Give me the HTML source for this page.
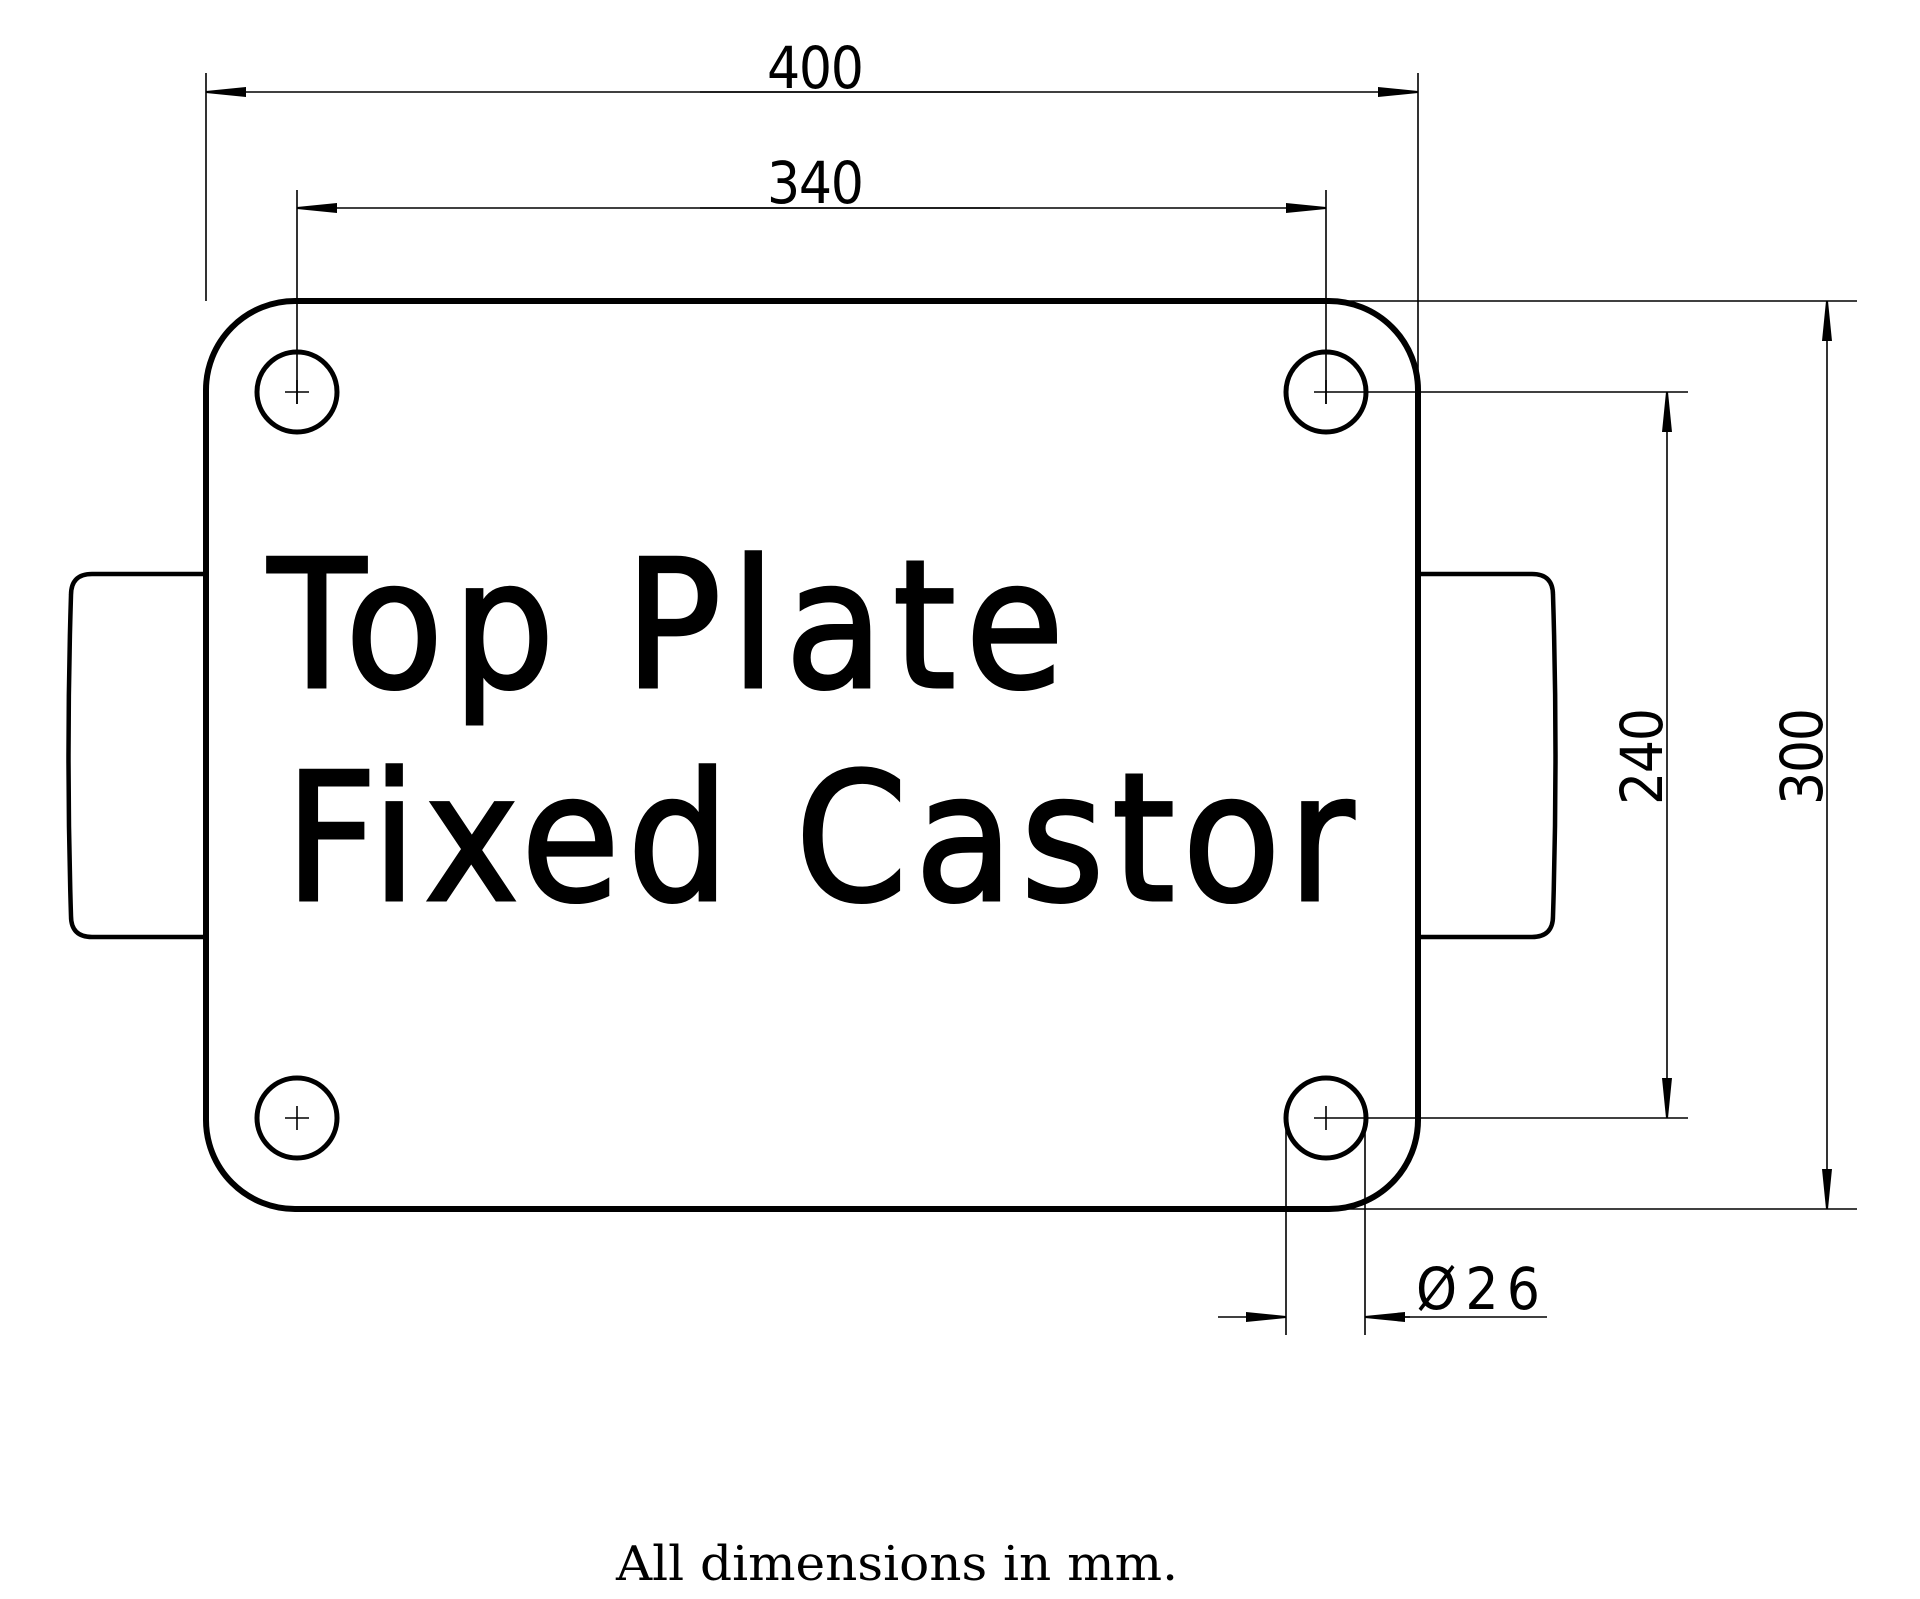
<!DOCTYPE html>
<html><head><meta charset="utf-8"><style>html,body{margin:0;padding:0;background:#fff}svg{display:block}</style></head>
<body>
<svg width="1920" height="1599" viewBox="0 0 1920 1599" xmlns="http://www.w3.org/2000/svg">
<defs>
<marker id="a" viewBox="0 0 40 10" refX="40" refY="5" markerWidth="40" markerHeight="10" markerUnits="userSpaceOnUse" orient="auto"><path d="M0,0 L40,4 L40,6 L0,10 Z" fill="#000"/></marker>
</defs>
<g fill="none" stroke="#000">
<path d="M206,574 H92 Q71,574 71,595 Q66,755 71,916 Q71,937 92,937 H206" stroke-width="4.5"/>
<path d="M1418,574 H1532 Q1553,574 1553,595 Q1558,755 1553,916 Q1553,937 1532,937 H1418" stroke-width="4.5"/>
<rect x="206" y="301" width="1212" height="908" rx="89" ry="89" stroke-width="6"/>
<g stroke-width="5"><circle cx="297" cy="392" r="40"/><circle cx="1326" cy="392" r="40"/><circle cx="297" cy="1118" r="40"/><circle cx="1326" cy="1118" r="40"/></g>
<g stroke-width="1.6">
<path d="M285,392H309M297,404V380M1314,392H1338M1326,404V380M285,1118H309M297,1106V1130M1314,1118H1338M1326,1106V1130"/>
<path d="M206,73V301M1418,73V390M297,190V404M1326,190V404"/>
<path d="M1000,92H206" marker-end="url(#a)"/><path d="M700,92H1418" marker-end="url(#a)"/>
<path d="M1000,208H297" marker-end="url(#a)"/><path d="M700,208H1326" marker-end="url(#a)"/>
<path d="M1333,301H1857M1333,1209H1857M1338,392H1688M1338,1118H1688"/>
<path d="M1827,750V301" marker-end="url(#a)"/><path d="M1827,750V1209" marker-end="url(#a)"/>
<path d="M1667,750V392" marker-end="url(#a)"/><path d="M1667,750V1118" marker-end="url(#a)"/>
<path d="M1286,1118V1335M1365,1118V1335M1405,1317H1547"/>
<path d="M1218,1317H1286" marker-end="url(#a)"/><path d="M1410,1317H1365" marker-end="url(#a)"/>
</g>
</g>
<g font-family="'DejaVu Sans Condensed', 'Liberation Sans Narrow', 'Liberation Sans', sans-serif" fill="#000" font-size="58">
<text x="767" y="88" textLength="97" lengthAdjust="spacing">400</text>
<text x="767" y="203" textLength="97" lengthAdjust="spacing">340</text>
<text transform="translate(1662,805) rotate(-90)" textLength="97" lengthAdjust="spacing">240</text>
<text transform="translate(1822,805) rotate(-90)" textLength="97" lengthAdjust="spacing">300</text>
<text x="1416" y="1309" textLength="124" lengthAdjust="spacing">Ø26</text>
</g>
<g font-family="'DejaVu Sans Condensed', 'DejaVu Sans', sans-serif" font-size="178" fill="#000" stroke="#000" stroke-width="3">
<text x="268" y="687" textLength="796" lengthAdjust="spacing">Top Plate</text>
<text x="285" y="900" textLength="1069" lengthAdjust="spacing">Fixed Castor</text>
</g>
<text x="616" y="1580" font-family="'DejaVu Serif', 'Liberation Serif', serif" font-size="48" textLength="562" lengthAdjust="spacingAndGlyphs">All dimensions in mm.</text>
</svg>
</body></html>
